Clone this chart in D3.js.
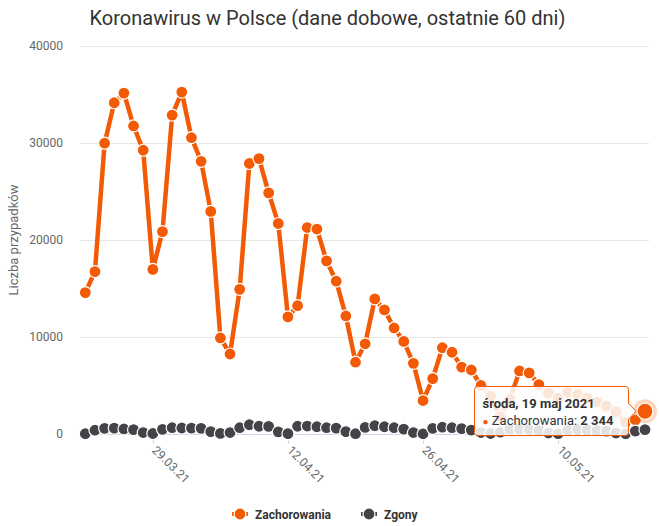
<!DOCTYPE html>
<html><head><meta charset="utf-8">
<script src="https://cdn.jsdelivr.net/npm/d3@7"></script>
<style>
body{margin:0;background:#fff;}
svg{font-family:Roboto,"Noto Sans",sans-serif;display:block;}
</style></head>
<body><svg id="chart" width="659" height="526"></svg>
<script>
const dates = ["2021-03-22","2021-03-23","2021-03-24","2021-03-25","2021-03-26","2021-03-27","2021-03-28",
"2021-03-29","2021-03-30","2021-03-31","2021-04-01","2021-04-02","2021-04-03","2021-04-04",
"2021-04-05","2021-04-06","2021-04-07","2021-04-08","2021-04-09","2021-04-10","2021-04-11",
"2021-04-12","2021-04-13","2021-04-14","2021-04-15","2021-04-16","2021-04-17","2021-04-18",
"2021-04-19","2021-04-20","2021-04-21","2021-04-22","2021-04-23","2021-04-24","2021-04-25",
"2021-04-26","2021-04-27","2021-04-28","2021-04-29","2021-04-30","2021-05-01","2021-05-02",
"2021-05-03","2021-05-04","2021-05-05","2021-05-06","2021-05-07","2021-05-08","2021-05-09",
"2021-05-10","2021-05-11","2021-05-12","2021-05-13","2021-05-14","2021-05-15","2021-05-16",
"2021-05-17","2021-05-18","2021-05-19"];
const cases = [14578,16741,29978,34151,35143,31757,29253,
16965,20870,32874,35251,30546,28106,22947,
9902,8246,14910,27887,28394,24855,21703,
12069,13227,21283,21130,17847,15752,12170,
7400,9300,13926,12793,10931,9548,7283,
3451,5709,8895,8426,6900,6600,5000,
3900,1800,3600,6500,6300,5100,4200,
3700,4300,4100,3700,3300,2900,2300,
1200,1440,2344];
const deaths = [25,390,580,600,520,450,150,
50,480,650,620,610,580,250,
60,150,650,954,800,780,220,
40,800,820,750,650,600,250,
30,680,850,750,650,500,150,
20,580,700,650,550,400,150,
50,200,500,500,450,350,100,
30,400,450,400,350,300,100,
20,300,450];
const seriesNames = ["Zachorowania","Zgony"];
const seriesColors = ["#f25a05","#434348"];
const yTicks = [0,10000,20000,30000,40000];
const xTickLabels = ["29.03.21","12.04.21","26.04.21","10.05.21"];
const titleText = "Koronawirus w Polsce (dane dobowe, ostatnie 60 dni)";
const yTitle = "Liczba przypadków";
const tooltipHeader = "środa, 19 maj 2021";
const hoverIndex = 58;

const parse = d3.utcParse("%Y-%m-%d");
const parseTick = d3.utcParse("%d.%m.%y");
const days = dates.map(parse);
const tickDates = xTickLabels.map(parseTick);

const svg = d3.select("#chart");
const plotL = 80, plotR = 649, plotT = 46, plotB = 434;
const x = d3.scaleUtc().domain([days[0], days[days.length-1]]).range([85.3, 645]);
const y = d3.scaleLinear().domain([0, 40000]).range([plotB, plotT]);

// title
svg.append("text").attr("x", 327.5).attr("y", 25).attr("text-anchor","middle")
  .attr("font-size", 20).attr("fill", "#333").text(titleText);

// grid
const grid = svg.append("g").attr("transform", `translate(${plotL},0)`)
  .call(d3.axisLeft(y).tickValues(yTicks).tickSize(-(plotR-plotL)).tickFormat(""));
grid.select(".domain").remove();
grid.selectAll("line").attr("stroke", "#e6e6e6");

// y labels
const yAx = svg.append("g").attr("transform", `translate(${plotL},0)`)
  .call(d3.axisLeft(y).tickValues(yTicks).tickSize(0).tickPadding(17).tickFormat(d3.format("d")));
yAx.select(".domain").remove();
yAx.selectAll("text").attr("font-size", 12).attr("fill", "#666").attr("font-family","Roboto,sans-serif");

svg.append("text").attr("transform", "translate(18,240) rotate(-90)").attr("text-anchor","middle")
  .attr("font-size", 13).attr("fill", "#666").text(yTitle);

// x axis
svg.append("line").attr("x1", plotL).attr("x2", plotR).attr("y1", plotB+0.5).attr("y2", plotB+0.5)
  .attr("stroke", "#ccd6eb");
const xAx = svg.append("g").attr("transform", `translate(0,${plotB})`)
  .call(d3.axisBottom(x).tickValues(tickDates).tickSize(10).tickSizeOuter(0)
    .tickFormat((d,i) => xTickLabels[i]));
xAx.select(".domain").remove();
xAx.selectAll(".tick line").attr("stroke", "#ccd6eb");
xAx.selectAll(".tick text").attr("x", 0).attr("y", 0).attr("dy", null)
  .attr("transform", "translate(-2,17) rotate(45)").attr("text-anchor", "start")
  .attr("font-size", 12).attr("fill", "#666").attr("font-family","Roboto,sans-serif");

// series
const seriesData = [cases, deaths];
const line = d3.line().x((d,i) => x(days[i])).y(d => y(d));
seriesData.forEach((vals, s) => {
  const g = svg.append("g");
  g.append("path").datum(vals).attr("d", line).attr("fill", "none")
    .attr("stroke", seriesColors[s]).attr("stroke-width", 4.5)
    .attr("stroke-linejoin", "round").attr("stroke-linecap", "round");
  g.selectAll("circle").data(vals).join("circle")
    .attr("cx", (d,i) => x(days[i])).attr("cy", d => y(d)).attr("r", 6)
    .attr("fill", seriesColors[s]).attr("stroke", "#fff").attr("stroke-width", 1.2);
});

// hover point
const hx = x(days[hoverIndex]), hy = y(cases[hoverIndex]);
svg.append("circle").attr("cx", hx).attr("cy", hy).attr("r", 12).attr("fill", seriesColors[0]).attr("opacity", 0.25);
svg.append("circle").attr("cx", hx).attr("cy", hy).attr("r", 8).attr("fill", seriesColors[0])
  .attr("stroke", "#fff").attr("stroke-width", 1.2);

// tooltip
const bx = 474.5, by = 386.5, bw = 154, bh = 49, r = 3;
const tip = svg.append("g");
const tipPath = `M${bx+r},${by} H${bx+bw-r} Q${bx+bw},${by} ${bx+bw},${by+r} V${hy-8} L${hx-9},${hy} L${bx+bw},${hy+8} V${by+bh-r} Q${bx+bw},${by+bh} ${bx+bw-r},${by+bh} H${bx+r} Q${bx},${by+bh} ${bx},${by+bh-r} V${by+r} Q${bx},${by} ${bx+r},${by} Z`;
tip.append("path").attr("d", tipPath).attr("fill", "#000").attr("opacity", 0.05).attr("transform", "translate(1,1)");
tip.append("path").attr("d", tipPath).attr("fill", "rgba(255,255,255,0.85)").attr("stroke", seriesColors[0]).attr("stroke-width", 1);
tip.append("text").attr("x", bx+8).attr("y", by+21).attr("font-size", 13).attr("font-weight", "bold").attr("fill", "#333").text(tooltipHeader);
const t2 = tip.append("text").attr("x", bx+8).attr("y", by+38).attr("font-size", 13).attr("fill", "#333");
t2.append("tspan").attr("fill", seriesColors[0]).attr("font-size", 10).text("●");
t2.append("tspan").text(" " + seriesNames[0] + ": ");
t2.append("tspan").attr("font-weight", "bold").text(d3.format(",")(cases[hoverIndex]).replace(/,/g, " "));

// legend
const legendX = [240, 369];
seriesNames.forEach((n, s) => {
  const g = svg.append("g").attr("transform", `translate(${legendX[s]},514)`);
  g.append("line").attr("x1", -8).attr("x2", 8).attr("stroke", seriesColors[s]).attr("stroke-width", 4);
  g.append("circle").attr("r", 6).attr("fill", seriesColors[s]).attr("stroke", "#fff").attr("stroke-width", 1.2);
  g.append("text").attr("x", 15).attr("y", 4.5).attr("font-size", 12).attr("font-weight", "bold").attr("fill", "#333").text(n);
});
</script></body></html>
